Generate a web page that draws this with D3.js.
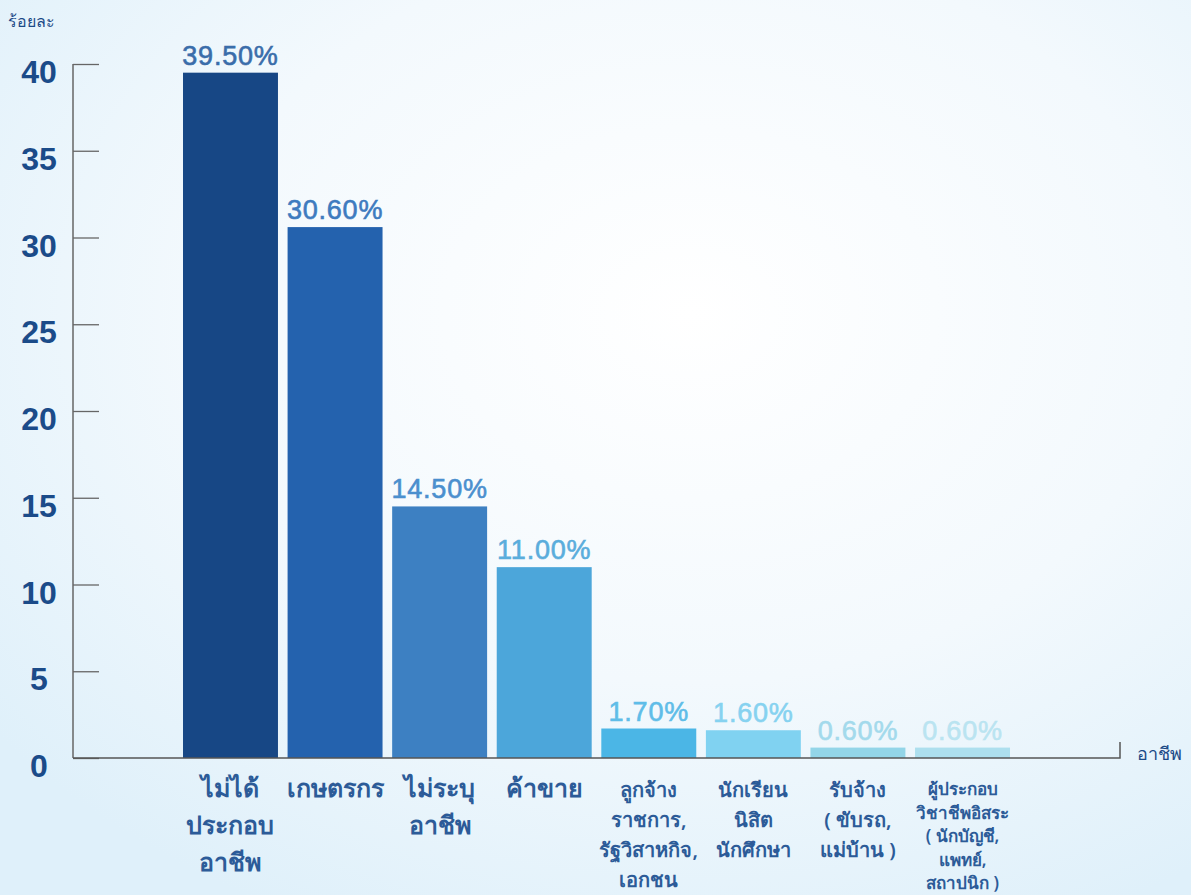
<!DOCTYPE html>
<html>
<head>
<meta charset="utf-8">
<script src="https://cdn.jsdelivr.net/npm/d3@7/dist/d3.min.js"></script>
<style>
  html, body { margin: 0; padding: 0; background: #eef7fc; }
  svg text { font-family: "Noto Sans", "Open Sans", sans-serif; }
  svg text.num { font-family: "Liberation Sans", Arial, sans-serif; }
</style>
</head>
<body>
<div id="chart"></div>
<script>
// occupation categories (multi-line labels split on \n)
const categories = [
    "ไม่ได้\nประกอบ\nอาชีพ",
    "เกษตรกร",
    "ไม่ระบุ\nอาชีพ",
    "ค้าขาย",
    "ลูกจ้าง\nราชการ,\nรัฐวิสาหกิจ,\nเอกชน",
    "นักเรียน\nนิสิต\nนักศึกษา",
    "รับจ้าง\n( ขับรถ,\nแม่บ้าน )",
    "ผู้ประกอบ\nวิชาชีพอิสระ\n( นักบัญชี,\nแพทย์,\nสถาปนิก )"
];
const values = [39.5, 30.6, 14.5, 11.0, 1.7, 1.6, 0.6, 0.6];
const yTicks = [0, 5, 10, 15, 20, 25, 30, 35, 40];
const yTitle = "ร้อยละ";
const xTitle = "อาชีพ";

const barColors = ["#174785", "#2462ae", "#3d80c2", "#4ca6da", "#4bb6e6", "#80d2f1", "#93d5e8", "#addfee"];
const labelColors = ["#3a6daa", "#3e7bbf", "#4b8fce", "#5aaddc", "#5fbde8", "#86d2f0", "#a3daec", "#bae4f1"];

const width = 1191, height = 895;
const x0 = 73, y0 = 758, yTop = 64, xEnd = 1120;

const svg = d3.select("#chart").append("svg")
    .attr("width", width)
    .attr("height", height);

// soft background
const bg = svg.append("defs").append("radialGradient")
    .attr("id", "bgGrad")
    .attr("cx", "58%").attr("cy", "35%").attr("r", "75%");
bg.append("stop").attr("offset", "0%").attr("stop-color", "#ffffff");
bg.append("stop").attr("offset", "55%").attr("stop-color", "#f3f9fd");
bg.append("stop").attr("offset", "100%").attr("stop-color", "#dff0fa");
svg.append("rect").attr("width", width).attr("height", height).style("fill", "url(#bgGrad)");

const x = d3.scaleBand()
    .domain(categories)
    .range([178.2, 1014.8])
    .paddingInner(0.092)
    .paddingOuter(0.046);

const y = d3.scaleLinear()
    .domain([0, 40])
    .range([y0, yTop]);

// y axis
const yAxis = svg.append("g").attr("class", "yAxis")
    .attr("transform", "translate(" + x0 + ",0)")
    .call(d3.axisRight(y).tickValues(yTicks).tickSize(26).tickFormat(""));
yAxis.select(".domain").attr("d", "M0," + yTop + "V" + y0).attr("stroke", "#666").attr("stroke-width", 1.5);
yAxis.selectAll(".tick line").attr("stroke", "#666").attr("stroke-width", 1.3);

svg.append("g").selectAll("text")
    .data(yTicks)
    .enter().append("text")
    .attr("class", "num")
    .attr("x", 39)
    .attr("y", d => y(d) + 19)
    .attr("text-anchor", "middle")
    .style("font-size", "32px")
    .style("font-weight", "700")
    .style("fill", "#1b4b89")
    .text(d => d);

// bars
svg.append("g").selectAll("rect")
    .data(values)
    .enter().append("rect")
    .attr("x", (d, i) => x(categories[i]))
    .attr("y", d => y(d))
    .attr("width", x.bandwidth())
    .attr("height", d => y0 - y(d))
    .style("fill", (d, i) => barColors[i]);

// x axis line
svg.append("path")
    .attr("d", "M" + x0 + "," + y0 + "H" + xEnd + "V" + (y0 - 16))
    .attr("fill", "none")
    .attr("stroke", "#555")
    .attr("stroke-width", 1.5);

// value labels
svg.append("g").selectAll("text")
    .data(values)
    .enter().append("text")
    .attr("class", "num")
    .attr("x", (d, i) => x(categories[i]) + x.bandwidth() / 2)
    .attr("y", d => y(d) - 8)
    .attr("text-anchor", "middle")
    .style("font-size", "27px")
    .style("font-weight", "400")
    .style("letter-spacing", "0.8px")
    .style("stroke-width", "0.6px")
    .style("fill", (d, i) => labelColors[i])
    .style("stroke", (d, i) => labelColors[i])
    .text(d => d.toFixed(2) + "%");

// category labels
const catG = svg.append("g").selectAll("text")
    .data(categories)
    .enter().append("text")
    .attr("text-anchor", "middle")
    .style("fill", "#2c5b98")
    .style("font-weight", "600")
    .style("font-size", (d, i) => i < 4 ? "25px" : (i < 7 ? "20px" : "17px"))
    .attr("transform", (d, i) => "translate(" + (x(d) + x.bandwidth() / 2) + ",0)");

catG.each(function (d, i) {
    const lines = d.split("\n");
    const lh = i < 4 ? 37 : (i < 7 ? 30 : 23.5);
    const top = i < 4 ? 797 : (i < 7 ? 797 : 795);
    d3.select(this).selectAll("tspan")
        .data(lines)
        .enter().append("tspan")
        .attr("x", 0)
        .attr("y", (l, j) => top + j * lh)
        .text(l => l);
});

// axis titles
svg.append("text")
    .attr("x", 8).attr("y", 27)
    .style("font-size", "16px")
    .style("font-weight", "500")
    .style("fill", "#1c4a87")
    .text(yTitle);

svg.append("text")
    .attr("x", 1137).attr("y", 760)
    .style("font-size", "18px")
    .style("font-weight", "500")
    .style("fill", "#1c4a87")
    .text(xTitle);
</script>
</body>
</html>
